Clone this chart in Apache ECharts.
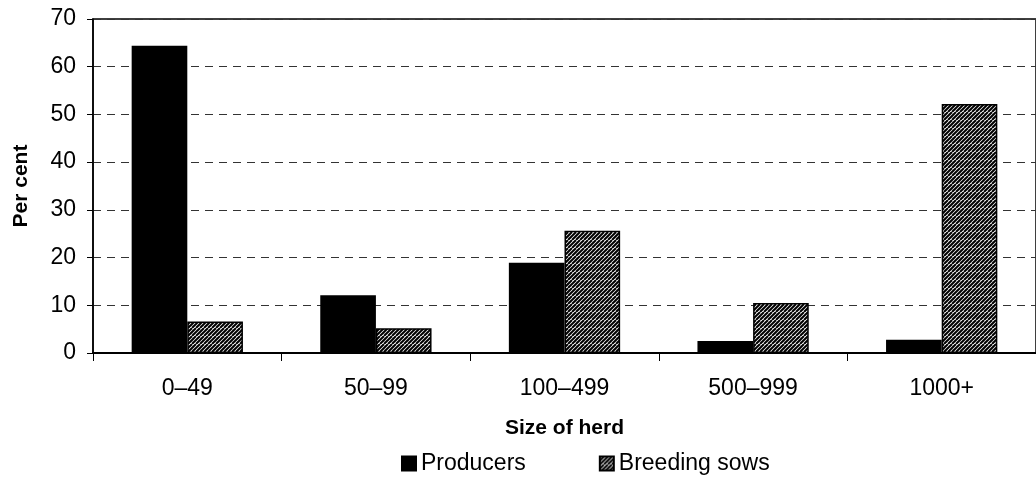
<!DOCTYPE html>
<html>
<head>
<meta charset="utf-8">
<script src="https://cdn.jsdelivr.net/npm/echarts@6/dist/echarts.min.js"></script>
<style>
  html, body { margin: 0; padding: 0; background: #fff; }
  #chart { width: 1036px; height: 481px; }
</style>
</head>
<body>
<div id="chart"></div>
<script>
// Share of producers and breeding sows by herd size
const categories = ['0–49', '50–99', '100–499', '500–999', '1000+'];
const producers = [64.4, 12.1, 18.9, 2.5, 2.8];
const breedingSows = [6.6, 5.2, 25.6, 10.5, 52.2];
const yTicks = [0, 10, 20, 30, 40, 50, 60, 70];

const FONT = "'Liberation Sans', Arial, sans-serif";

// Diagonal hatch fill for the breeding-sows bars
function hatchPattern() {
  const c = document.createElement('canvas');
  c.width = 8; c.height = 8;
  const g = c.getContext('2d');
  g.fillStyle = '#fff';
  g.fillRect(0, 0, 8, 8);
  g.strokeStyle = '#000';
  g.lineWidth = 2;
  for (let x = -8; x <= 8; x += 4) {
    g.beginPath();
    g.moveTo(x, 8);
    g.lineTo(x + 8, 0);
    g.stroke();
  }
  return { image: c, repeat: 'repeat' };
}

const chart = echarts.init(document.getElementById('chart'), null, { renderer: 'canvas' });

chart.setOption({
  animation: false,
  backgroundColor: '#fff',
  textStyle: { fontFamily: FONT },
  grid: {
    left: 93, top: 19, width: 950, height: 334,
    show: true, borderColor: '#000', borderWidth: 1.5, backgroundColor: 'transparent'
  },
  legend: {
    left: 401, top: 452, padding: 0,
    icon: 'rect',
    itemWidth: 14, itemHeight: 14, itemGap: 73,
    textStyle: { fontFamily: FONT, fontSize: 23, color: '#000' },
    data: ['Producers', 'Breeding sows']
  },
  xAxis: {
    type: 'category',
    data: categories,
    name: 'Size of herd',
    nameLocation: 'middle',
    nameGap: 65,
    nameTextStyle: { fontFamily: FONT, fontSize: 21, fontWeight: 'bold', color: '#000' },
    axisLine: { lineStyle: { color: '#000', width: 2 } },
    axisTick: { show: true, length: 8, lineStyle: { color: '#000', width: 1 } },
    axisLabel: { margin: 24, fontFamily: FONT, fontSize: 23, color: '#000' },
    splitLine: { show: false }
  },
  yAxis: {
    type: 'value',
    min: yTicks[0], max: yTicks[yTicks.length - 1], interval: 10,
    name: 'Per cent',
    nameLocation: 'middle',
    nameGap: 61,
    nameTextStyle: { fontFamily: FONT, fontSize: 21, fontWeight: 'bold', color: '#000' },
    axisLine: { show: true, lineStyle: { color: '#000', width: 1.5 } },
    axisTick: { show: true, length: 6, lineStyle: { color: '#000', width: 1 } },
    axisLabel: { margin: 17, fontFamily: FONT, fontSize: 23, color: '#000' },
    splitLine: { show: true, lineStyle: { color: '#333', width: 1, type: [8, 6] } }
  },
  series: [
    {
      name: 'Producers',
      type: 'bar',
      data: producers,
      barWidth: '29.5%',
      barGap: '0%',
      itemStyle: { color: '#000', borderColor: '#000', borderWidth: 1.5 }
    },
    {
      name: 'Breeding sows',
      type: 'bar',
      data: breedingSows,
      barWidth: '29.5%',
      barGap: '0%',
      itemStyle: { color: hatchPattern(), borderColor: '#000', borderWidth: 1.5 }
    }
  ]
});
</script>
</body>
</html>
